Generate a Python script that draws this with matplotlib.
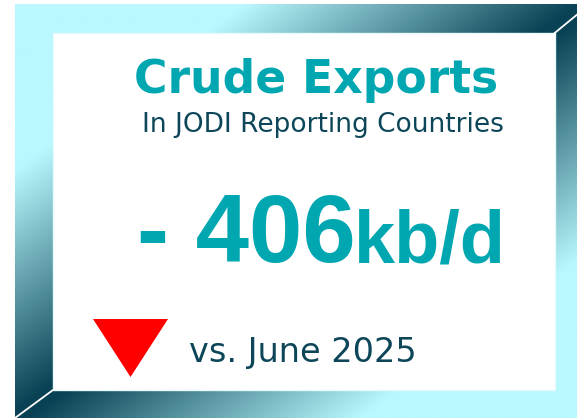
# ==========================================================
# CARD - CRUDE EXPORTS (JODI)
# ==========================================================

import numpy as np
import matplotlib
matplotlib.use("Agg")
import matplotlib.pyplot as plt
from matplotlib.patches import Rectangle, Polygon

# ==========================================================
# DADOS
# ==========================================================

TITULO = "Crude Exports"
SUBTITULO = "In JODI Reporting Countries"
VARIACAO = [-406]
UNIDADE = ["kb/d"]
REFERENCIA = ["June 2025"]

# ==========================================================
# CONFIGURAÇÕES
# ==========================================================

LARGURA = 577
ALTURA = 418

COR_TEAL = "#00A7B1"
COR_ESCURA = "#0D4659"
COR_CLARA = np.array([186, 248, 254]) / 255
COR_FUNDO_ESCURO = np.array([9, 66, 84]) / 255

FONTE_LARGA = ["DejaVu Sans"]
FONTE_NUM = ["Liberation Sans", "DejaVu Sans"]

# fator pixel -> ponto (dpi 100)
PT = 0.72

# ==========================================================
# MOLDURA
# ==========================================================

def desenhar_moldura(ax):

    x0, x1 = 15, 590
    y0, y1 = 4, 419

    # gradiente refletido: claro nos cantos sup. esq. e inf. dir.,
    # escuro ao longo da diagonal oposta
    xs = np.linspace(0, 1, 600)
    ys = np.linspace(0, 1, 440)
    s, t = np.meshgrid(xs, ys)
    d = np.abs(s + t - 1)
    f = np.clip((0.6 - d) / 0.58, 0, 1)

    img = COR_CLARA[None, None, :] * (1 - f[..., None]) + COR_FUNDO_ESCURO[None, None, :] * f[..., None]

    ax.imshow(
        img,
        extent=(x0, x1, y1, y0),
        origin="upper",
        interpolation="bilinear",
        zorder=1
    )

    # area branca interna
    ax.add_patch(
        Rectangle(
            (53, 33),
            501.7,
            357,
            facecolor="white",
            edgecolor="#E6FAFC",
            linewidth=1,
            zorder=2
        )
    )

    # chanfros
    ax.plot([554.7, 590], [33, 4], color="white", linewidth=1.3, zorder=3)
    ax.plot([53, 15], [390, 418], color="white", linewidth=1.3, zorder=3)

# ==========================================================
# TEXTO AJUSTADO À LARGURA
# ==========================================================

def largura_texto(fig, ax, txt):

    fig.canvas.draw()
    bb = txt.get_window_extent().transformed(ax.transData.inverted())
    return abs(bb.x1 - bb.x0), min(bb.x0, bb.x1)

def texto_ajustado(fig, ax, x_ini, x_fim, y, texto, tamanho, **kw):

    txt = ax.text(x_ini, y, texto, fontsize=tamanho, ha="left", va="baseline", zorder=4, **kw)

    for _ in range(2):
        w, esq = largura_texto(fig, ax, txt)
        tamanho = tamanho * (x_fim - x_ini) / w
        txt.set_fontsize(tamanho)

    w, esq = largura_texto(fig, ax, txt)
    txt.set_x(txt.get_position()[0] + (x_ini - esq))

    return txt

# ==========================================================
# TEXTOS
# ==========================================================

def desenhar_textos(fig, ax):

    texto_ajustado(
        fig, ax, 134, 498, 93,
        TITULO, 30,
        fontweight="bold",
        color=COR_TEAL,
        family=FONTE_LARGA
    )

    texto_ajustado(
        fig, ax, 142, 503, 132,
        SUBTITULO, 17,
        color=COR_ESCURA,
        family=FONTE_LARGA
    )

    valor = f"- {abs(VARIACAO[0])}" if VARIACAO[0] < 0 else f"+ {VARIACAO[0]}"

    t1 = ax.text(
        137, 262,
        valor,
        fontsize=96 * PT,
        fontweight="bold",
        color=COR_TEAL,
        family=FONTE_NUM,
        ha="left",
        va="baseline",
        zorder=4
    )

    w, esq = largura_texto(fig, ax, t1)

    ax.text(
        esq + w - 2, 262,
        UNIDADE[0],
        fontsize=74 * PT,
        fontweight="bold",
        color=COR_TEAL,
        family=FONTE_NUM,
        ha="left",
        va="baseline",
        zorder=4
    )

    # seta de queda
    cor_seta = "#FF0000" if VARIACAO[0] < 0 else "#00B050"
    ax.add_patch(
        Polygon(
            [[93, 319], [168, 319], [130.5, 377]],
            closed=True,
            facecolor=cor_seta,
            edgecolor="none",
            zorder=4
        )
    )

    texto_ajustado(
        fig, ax, 189, 417, 362,
        f"vs. {REFERENCIA[0]}", 24,
        color=COR_ESCURA,
        family=FONTE_LARGA
    )

# ==========================================================
# PROGRAMA PRINCIPAL
# ==========================================================

def main():

    fig = plt.figure(figsize=(LARGURA / 100, ALTURA / 100), dpi=100)
    fig.patch.set_facecolor("white")

    ax = fig.add_axes([0, 0, 1, 1])

    desenhar_moldura(ax)
    ax.set_xlim(0, LARGURA)
    ax.set_ylim(ALTURA, 0)
    ax.axis("off")

    desenhar_textos(fig, ax)

    fig.savefig("out.png", dpi=100)

if __name__ == "__main__":

    main()
